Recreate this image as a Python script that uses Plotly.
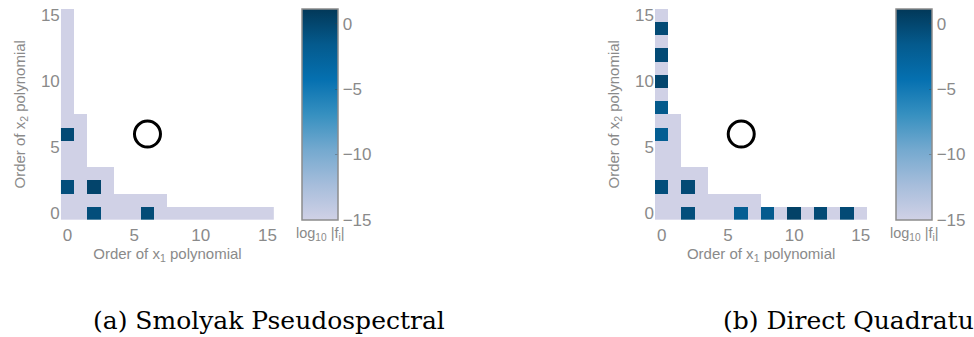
import plotly.graph_objects as go

W, H = 974, 337

# ---------------- data ----------------
orders = list(range(16))
# highest x2 order kept in the index set for each x1 order (both panels)
max_x2_order = [15, 7, 3, 3, 1, 1, 1, 1, 0, 0, 0, 0, 0, 0, 0, 0]
floor_log = -15.0

# (a) Smolyak pseudospectral: significant coefficients
smolyak_x1 = [0, 0, 2, 2, 6]
smolyak_x2 = [6, 2, 2, 0, 0]
smolyak_log = [-0.3, -0.6, 0.2, -0.6, -0.4]

# (b) Direct quadrature: significant coefficients
direct_x1 = [0, 0, 0, 0, 0, 0, 2, 2, 6, 8, 10, 12, 14]
direct_x2 = [14, 12, 10, 8, 6, 2, 2, 0, 0, 0, 0, 0, 0]
direct_log = [-0.3, -0.3, 0.1, -1.5, -2.0, -0.6, -0.3, -0.6, -2.0, -1.6, 0.4, -0.3, -0.3]

# true term marked by the circle
circle_x = [6]
circle_y = [6]

cbar_ticks = [0, -5, -10, -15]
axis_ticks = [0, 5, 10, 15]
captions = ["(a) Smolyak Pseudospectral", "(b) Direct Quadrature"]

z_min, z_max = -15.0, 1.16


def build_z(xs, ys, vals):
    z = [[(floor_log if y <= max_x2_order[x] else None) for x in orders] for y in orders]
    for x, y, v in zip(xs, ys, vals):
        z[y][x] = v
    return z


pubu = [[0.0, '#d0d1e6'], [1/6, '#a6bddb'], [2/6, '#74a9cf'], [3/6, '#3690c0'],
        [4/6, '#0570b0'], [5/6, '#045a8d'], [1.0, '#023858']]

GRAY = '#8a8a8a'
SANS = 'Liberation Sans, Arial, sans-serif'

def px_x(p):
    return p / W

def px_y(p):
    return 1 - p / H

# panel geometry in pixels
plot_top, plot_bot = 7.0, 221.0
panels = [
    dict(x0=61.0, x1=275.0, cb=302.5, xs=smolyak_x1, ys=smolyak_x2, vals=smolyak_log, cap_x=91.5),
    dict(x0=657.0, x1=870.0, cb=898.5, xs=direct_x1, ys=direct_x2, vals=direct_log, cap_x=723.0),
]

fig = go.Figure()
annotations = []
for i, p in enumerate(panels):
    n = '' if i == 0 else str(i + 1)
    xa, ya = 'x' + n, 'y' + n
    fig.add_trace(go.Heatmap(
        x=orders, y=orders, z=build_z(p['xs'], p['ys'], p['vals']),
        colorscale=pubu, zmin=z_min, zmax=z_max, xaxis=xa, yaxis=ya,
        hoverongaps=False,
        colorbar=dict(
            x=px_x(p['cb']), xanchor='left', xpad=0, ypad=0,
            y=px_y(plot_bot), yanchor='bottom', len=(plot_bot - plot_top) / H, lenmode='fraction',
            thickness=36, outlinewidth=1.5, outlinecolor='#8c8c8c',
            tickvals=cbar_ticks, ticks='inside', ticklen=3, tickcolor='rgba(60,60,60,0.35)',
            tickfont=dict(family=SANS, size=17, color=GRAY),
        ),
    ))
    fig.add_trace(go.Scatter(
        x=circle_x, y=circle_y, mode='markers', xaxis=xa, yaxis=ya, showlegend=False,
        marker=dict(symbol='circle-open', size=26, color='black', line=dict(width=3, color='black')),
    ))
    axis_common = dict(showgrid=False, zeroline=False, showline=False, ticks='',
                       tickvals=axis_ticks, tickfont=dict(family=SANS, size=17, color=GRAY))
    fig.update_layout(**{
        ('xaxis' + n): dict(axis_common, domain=[px_x(p['x0']), px_x(p['x1'])], range=[-0.5, 15.5],
                             anchor=ya, ticklabelstandoff=3,
                             title=dict(text='Order of x<sub>1</sub> polynomial', standoff=3,
                                        font=dict(family=SANS, size=15, color=GRAY))),
        ('yaxis' + n): dict(axis_common, domain=[px_y(plot_bot), px_y(plot_top)], range=[-0.5, 15.5],
                             anchor=xa,
                             title=dict(text='Order of x<sub>2</sub> polynomial', standoff=11,
                                        font=dict(family=SANS, size=15, color=GRAY))),
    })
    annotations.append(dict(
        text='log<sub>10</sub> |f<sub>i</sub>|', xref='paper', yref='paper',
        x=px_x(p['cb'] - 8), y=px_y(224), xanchor='left', yanchor='top', showarrow=False,
        font=dict(family=SANS, size=14.5, color=GRAY)))
    annotations.append(dict(
        text=captions[i], xref='paper', yref='paper',
        x=px_x(p['cap_x']), y=px_y(323), xanchor='left', yanchor='middle', showarrow=False,
        font=dict(family='DejaVu Serif, Liberation Serif, serif', size=25, color='black')))

fig.update_layout(
    width=W, height=H, margin=dict(l=0, r=0, t=0, b=0),
    paper_bgcolor='white', plot_bgcolor='white', showlegend=False,
    annotations=annotations,
)

fig.write_html('out.html')
